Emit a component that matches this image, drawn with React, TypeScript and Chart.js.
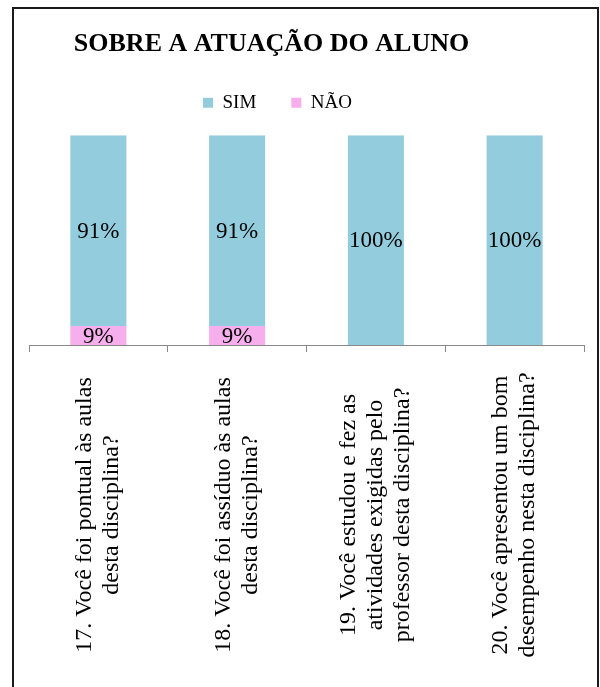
import React, { useEffect, useRef } from 'react';
import { Chart, registerables } from 'chart.js';

Chart.register(...registerables);

const TITLE = 'SOBRE A ATUAÇÃO DO ALUNO';
const CATEGORY_LINES: string[][] = [
  ['17. Você foi pontual às aulas', 'desta disciplina?'],
  ['18. Você foi assíduo às aulas', 'desta disciplina?'],
  ['19. Você estudou e fez as', 'atividades exigidas pelo', 'professor desta disciplina?'],
  ['20. Você apresentou um bom', 'desempenho nesta disciplina?'],
];
const SERIES_SIM = 'SIM';
const SERIES_NAO = 'NÃO';
const SIM_VALUES = [91, 91, 100, 100];
const NAO_VALUES = [9, 9, 0, 0];
const Y_MIN = 0;
const Y_MAX = 100;

const SERIF = "'Times New Roman', 'Liberation Serif', serif";
const COLOR_SIM = '#93CDDD';
const COLOR_NAO = '#F6AEEC';

const headerShift = {
  id: 'headerShift',
  afterLayout(chart: any) {
    const t = chart.titleBlock;
    if (t) {
      t.left -= 35;
      t.right -= 35;
    }
    const l = chart.legend;
    if (l) {
      l.left -= 29;
      l.right -= 29;
      l.top -= 13;
      l.bottom -= 13;
    }
  },
};

const dataLabels = {
  id: 'dataLabels',
  afterDatasetsDraw(chart: any) {
    const ctx = chart.ctx;
    ctx.save();
    ctx.font = `23px ${SERIF}`;
    ctx.fillStyle = '#000';
    ctx.textAlign = 'center';
    ctx.textBaseline = 'middle';
    chart.data.datasets.forEach((ds: any, di: number) => {
      const meta = chart.getDatasetMeta(di);
      meta.data.forEach((bar: any, i: number) => {
        const v = ds.data[i];
        if (!v) return;
        const { x, y, base } = bar.getProps(['x', 'y', 'base'], true);
        ctx.fillText(`${v}%`, x, (y + base) / 2 + 1);
      });
    });
    ctx.restore();
  },
};

const xLabels = {
  id: 'xLabels',
  afterDraw(chart: any) {
    const ctx = chart.ctx;
    const xs = chart.scales.x;
    const cy = chart.chartArea.bottom + 170;
    ctx.save();
    ctx.font = `24px ${SERIF}`;
    ctx.fillStyle = '#000';
    ctx.textAlign = 'center';
    ctx.textBaseline = 'middle';
    CATEGORY_LINES.forEach((lines, i) => {
      const x = xs.getPixelForValue(i);
      ctx.save();
      ctx.translate(x, cy);
      ctx.rotate(-Math.PI / 2);
      const n = lines.length;
      lines.forEach((line, k) => {
        ctx.fillText(line, 0, (k - (n - 1) / 2) * 27);
      });
      ctx.restore();
    });
    ctx.restore();
  },
};

export default function App() {
  const ref = useRef<HTMLCanvasElement | null>(null);

  useEffect(() => {
    if (!ref.current) return;
    const chart = new Chart(ref.current, {
      type: 'bar',
      data: {
        labels: CATEGORY_LINES.map((l) => l.join(' ')),
        datasets: [
          {
            label: SERIES_NAO,
            data: NAO_VALUES,
            backgroundColor: COLOR_NAO,
            barPercentage: 0.404,
            categoryPercentage: 1,
          },
          {
            label: SERIES_SIM,
            data: SIM_VALUES,
            backgroundColor: COLOR_SIM,
            barPercentage: 0.404,
            categoryPercentage: 1,
          },
        ],
      },
      options: {
        responsive: false,
        animation: false,
        devicePixelRatio: 1,
        layout: { padding: { left: 29, right: 16, top: 0, bottom: 335 } },
        plugins: {
          title: {
            display: true,
            text: TITLE,
            color: '#000',
            font: { family: SERIF, size: 26, weight: 'bold' },
            padding: { top: 29, bottom: 11 },
          },
          legend: {
            display: true,
            position: 'top',
            reverse: true,
            labels: {
              boxWidth: 10,
              boxHeight: 10,
              color: '#000',
              font: { family: SERIF, size: 19 },
              padding: 35,
            },
          },
          tooltip: { enabled: false },
        },
        scales: {
          x: {
            stacked: true,
            grid: {
              offset: true,
              drawOnChartArea: false,
              drawTicks: true,
              tickLength: 7,
              color: '#898989',
            },
            border: { display: true, color: '#898989', width: 1 },
            ticks: { display: false },
          },
          y: {
            stacked: true,
            display: false,
            min: Y_MIN,
            max: Y_MAX,
          },
        },
      },
      plugins: [headerShift, dataLabels, xLabels],
    });
    return () => chart.destroy();
  }, []);

  return (
    <>
      <div
        style={{
          position: 'absolute',
          left: 12,
          top: 7,
          width: 587,
          height: 680,
          border: '2px solid #1a1a1a',
          borderBottom: 'none',
          boxSizing: 'border-box',
        }}
      />
      <canvas
        ref={ref}
        width={600}
        height={687}
        style={{ position: 'absolute', left: 0, top: 0, width: 600, height: 687 }}
      />
    </>
  );
}
